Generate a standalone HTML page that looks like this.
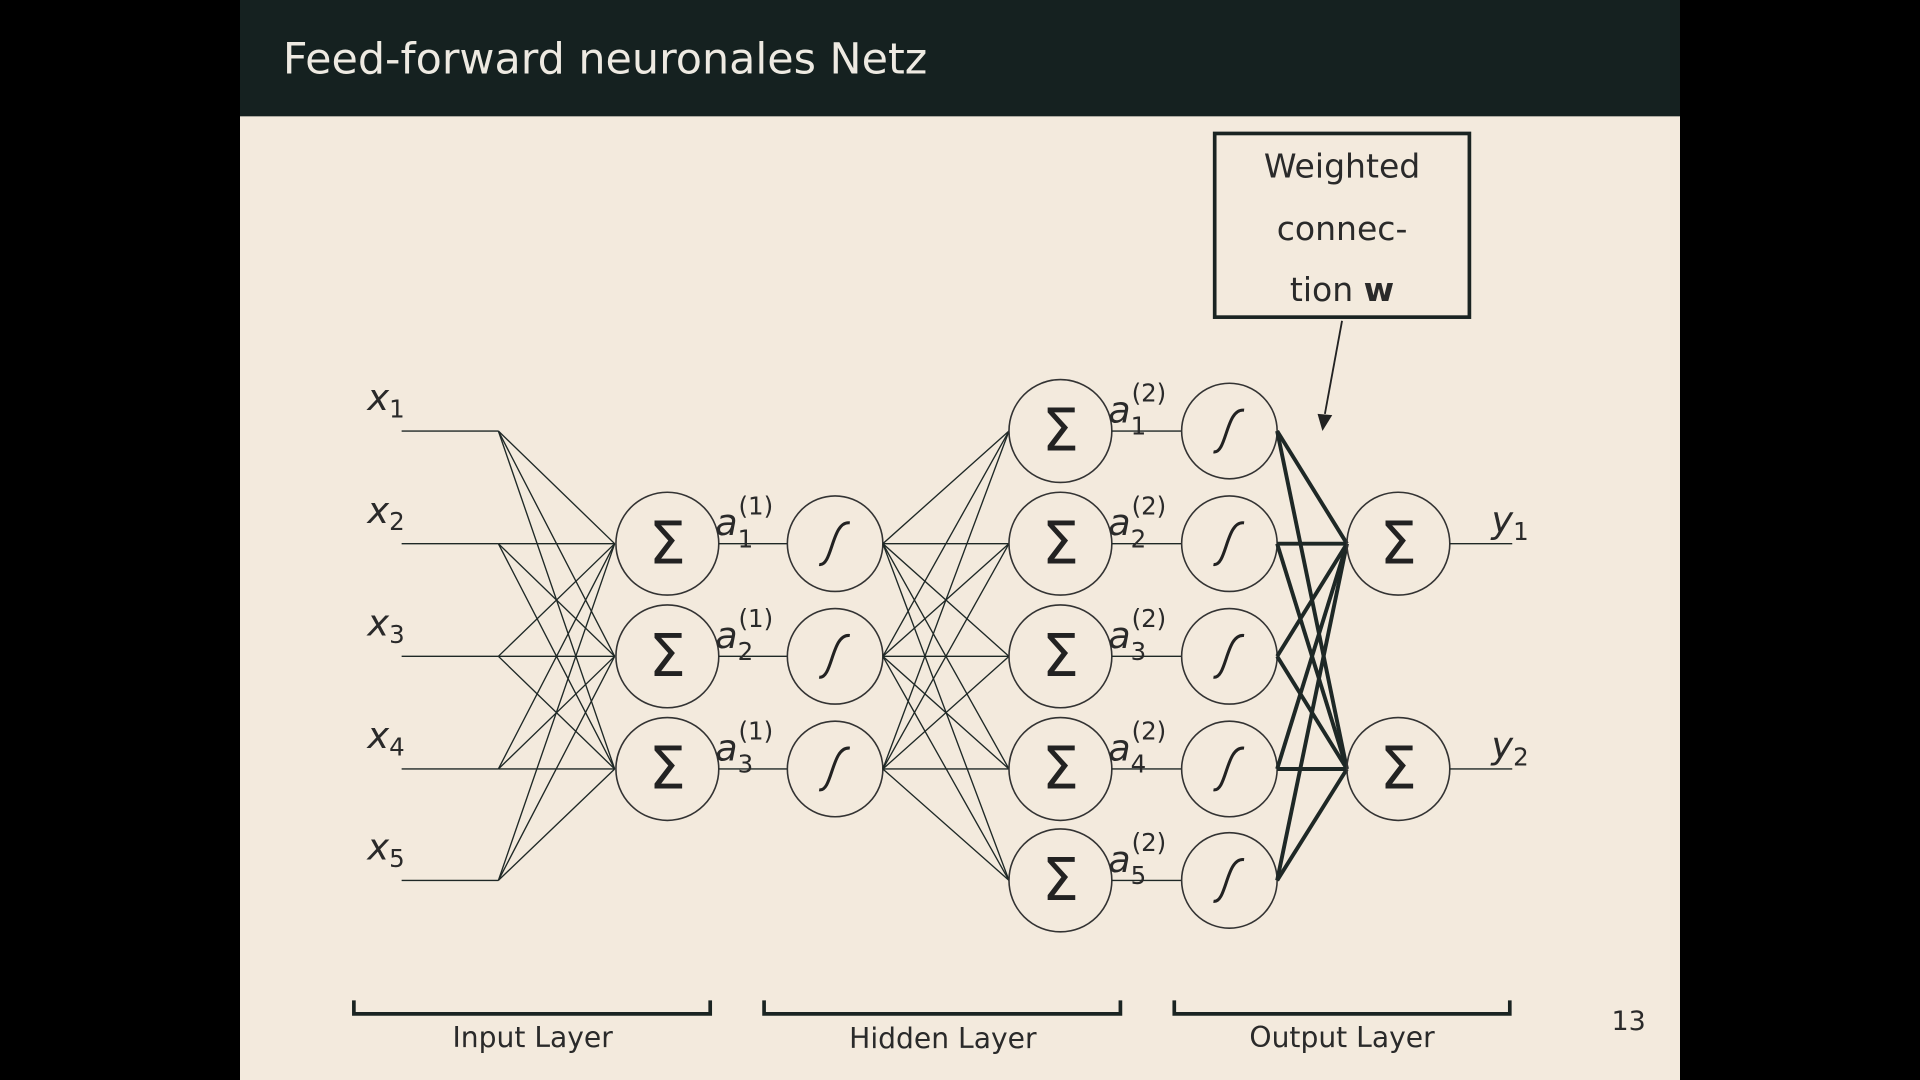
<!DOCTYPE html>
<html><head><meta charset="utf-8"><style>
html,body{margin:0;padding:0;background:#000;width:1920px;height:1080px;overflow:hidden}
svg{display:block}
text{font-family:"DejaVu Sans","Liberation Sans",sans-serif}
</style></head><body>
<svg id="s" width="1920" height="1080" viewBox="0 0 1568 882" xmlns="http://www.w3.org/2000/svg">
<rect x="0" y="0" width="1568" height="882" fill="#000"/>
<rect x="196" y="0" width="1176" height="882" fill="#f3eadd"/>
<rect x="196" y="0" width="1176" height="95" fill="#152120"/>
<text x="231" y="60" font-size="35" fill="#eeeae2">Feed-forward neuronales Netz</text>
<g id="net"></g>
<g>
<rect x="992" y="109" width="208" height="150" fill="none" stroke="#1a2422" stroke-width="3"/>
<text x="1096" y="145" font-size="27" text-anchor="middle" fill="#2a2a2a">Weighted</text>
<text x="1096" y="196" font-size="27" text-anchor="middle" fill="#2a2a2a">connec-</text>
<text x="1096" y="246" font-size="27" text-anchor="middle" fill="#2a2a2a">tion <tspan font-weight="bold">w</tspan></text>
<line x1="1096" y1="262" x2="1082" y2="338" stroke="#222" stroke-width="1.5"/>
<polygon points="1076,338 1088,339 1080,352" fill="#222"/>
</g>
<g stroke="#1a2422" stroke-width="3" fill="none">
<path d="M289,817 V828 H580 V817"/><path d="M624,817 V828 H915 V817"/><path d="M959,817 V828 H1233 V817"/>
</g>
<text x="435" y="855" font-size="23" text-anchor="middle" fill="#2a2a2a">Input Layer</text>
<text x="770" y="856" font-size="23" text-anchor="middle" fill="#2a2a2a">Hidden Layer</text>
<text x="1096" y="855" font-size="23" text-anchor="middle" fill="#2a2a2a">Output Layer</text>
<text x="1330" y="841" font-size="22" text-anchor="middle" fill="#2a2a2a">13</text>
</svg>
<script>
const inputLabels=["1","2","3","4","5"];
const hidden1=[1,2,3];
const hidden2=[1,2,3,4,5];
const outputs=["1","2"];
const NS="http://www.w3.org/2000/svg";
const g=document.getElementById('net');
const ys5=[352,444,536,628,719];
const rowY=(i,n)=>n===5?ys5[i]:(n===3?ys5[i+1]:[444,628][i]);
function mk(t,a,p){const e=document.createElementNS(NS,t);for(const k in a)e.setAttribute(k,a[k]);(p||g).appendChild(e);return e;}
function line(x1,y1,x2,y2,w){const e=mk('line',{x1,y1,x2,y2,stroke:'#1e2826','stroke-width':w||1.1});}
function sum(cx,cy){const c=mk('circle',{cx,cy,r:42,fill:'none',stroke:'#333','stroke-width':1.3});const t=mk('text',{x:cx,y:cy+16,'font-size':48,'text-anchor':'middle',fill:'#222','font-family':'"Liberation Serif",serif'});t.textContent='Σ';}
function sig(cx,cy){const c=mk('circle',{cx,cy,r:39,fill:'none',stroke:'#333','stroke-width':1.3});const p=mk('path',{d:`M${cx-13},${cy+17} C${cx-2},${cy+19} ${cx-3},${cy-19} ${cx+12},${cy-17}`,fill:'none',stroke:'#222','stroke-width':2.5});}
function txt(x,y,s,sz,name){const t=mk('text',{x,y,'font-size':sz,fill:'#2a2a2a','font-style':'italic'});t.innerHTML=s;}
const nI=inputLabels.length,n1=hidden1.length,n2=hidden2.length,nO=outputs.length;
inputLabels.forEach((l,i)=>{const y=rowY(i,nI);line(328,y,407,y);txt(300,y-17,'x<tspan font-size="20" font-style="normal" dy="6">'+l+'</tspan>',30,'input-label-x'+l);
 for(let j=0;j<n1;j++)line(407,y,502,rowY(j,n1));});
hidden1.forEach((h,j)=>{const y=rowY(j,n1);sum(545,y);line(587,y,643,y);sig(682,y);
 txt(584,y-7,'a<tspan font-size="20" font-style="normal" dy="10">'+h+'</tspan><tspan font-size="20" font-style="normal" dx="-12" dy="-27">(1)</tspan>',30,'activation-label-a1-'+h);
 for(let k=0;k<n2;k++)line(721,y,824,rowY(k,n2));});
hidden2.forEach((h,k)=>{const y=rowY(k,n2);sum(866,y);line(908,y,965,y);sig(1004,y);
 txt(905,y-7,'a<tspan font-size="20" font-style="normal" dy="10">'+h+'</tspan><tspan font-size="20" font-style="normal" dx="-12" dy="-27">(2)</tspan>',30,'activation-label-a2-'+h);
 for(let o=0;o<nO;o++)line(1043,y,1100,rowY(o,nO),3.2);});
outputs.forEach((l,o)=>{const y=rowY(o,nO);sum(1142,y);line(1184,y,1235,y);txt(1218,y-9,'y<tspan font-size="20" font-style="normal" dy="6">'+l+'</tspan>',30,'output-label-y'+l);});
</script>
</body></html>
